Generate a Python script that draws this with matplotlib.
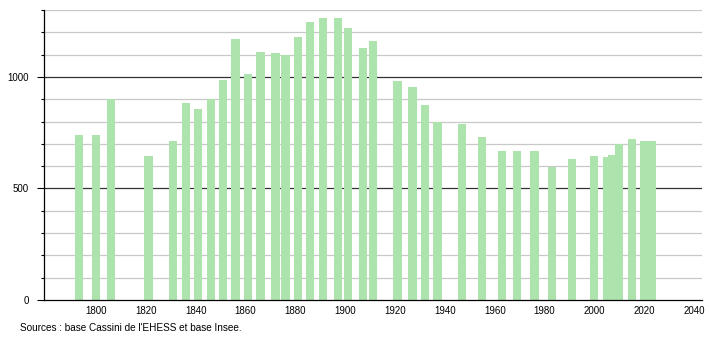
import numpy as np
import matplotlib
matplotlib.use('Agg')
import matplotlib.pyplot as plt
from matplotlib.ticker import MultipleLocator

plt.rcParams['font.family'] = ['Liberation Sans', 'DejaVu Sans']

years = [1793, 1800, 1806, 1821, 1831, 1836, 1841, 1846, 1851, 1856,
         1861, 1866, 1872, 1876, 1881, 1886, 1891, 1897, 1901, 1907,
         1911, 1921, 1927, 1932, 1937, 1947, 1955, 1963, 1969, 1976,
         1983, 1991, 2000, 2005, 2007, 2010, 2015, 2020, 2023]
population = [740, 740, 900, 645, 715, 882, 855, 900, 987, 1172,
              1011, 1110, 1107, 1099, 1181, 1245, 1266, 1266, 1219, 1128,
              1163, 981, 955, 873, 798, 787, 730, 670, 670, 667,
              597, 630, 645, 640, 649, 700, 723, 712, 712]

xticks = list(range(1800, 2041, 20))
source = "Sources : base Cassini de l'EHESS et base Insee."

fig = plt.figure(figsize=(7.1, 3.4), dpi=100)
ax = fig.add_axes([44 / 710, 40 / 340, 658 / 710, 290 / 340])

# grid: light every 100, dark every 500
for v in range(100, 1301, 100):
    if v % 500 == 0:
        ax.axhline(v, color='#333333', lw=0.9, zorder=1)
    else:
        ax.axhline(v, color='#c8c8c8', lw=0.9, zorder=1)

ax.bar(years, population, width=3.3, color='#ade3ad', zorder=2)

ax.set_xlim(1779.1, 2043.2)
ax.set_ylim(0, 1300)
ax.set_xticks(xticks)
ax.set_yticks([0, 500, 1000])
ax.yaxis.set_minor_locator(MultipleLocator(100))
ax.tick_params(axis='x', length=0, labelsize=7, pad=4)
ax.tick_params(axis='y', which='major', length=5, width=0.8, labelsize=7, pad=6)
ax.tick_params(axis='y', which='minor', length=2, width=0.8)

for s in ['top', 'right']:
    ax.spines[s].set_visible(False)
ax.spines['left'].set_linewidth(0.9)
ax.spines['bottom'].set_linewidth(0.9)

fig.text(20 / 710, 1 - 328 / 340, source, fontsize=7.2, va='center', ha='left')

fig.savefig('out.png', dpi=100)
